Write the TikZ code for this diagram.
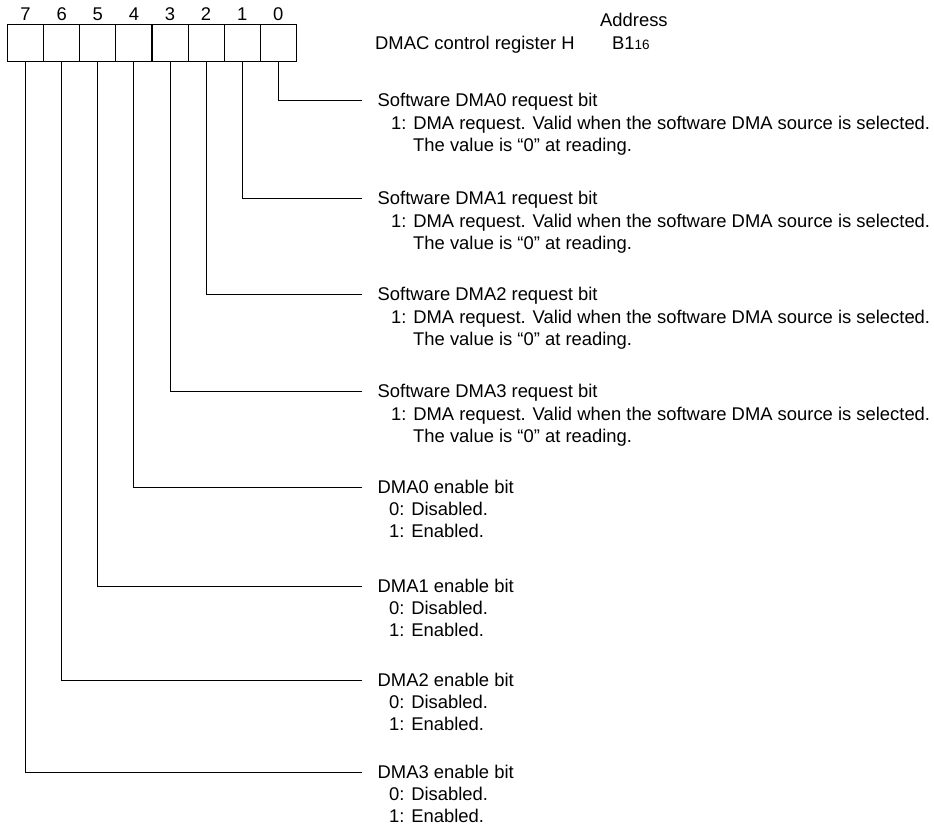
\documentclass[tikz,border=0pt]{standalone}
\usepackage{fontspec}
\setmainfont{Liberation Sans}
\begin{document}
\begin{tikzpicture}[x=1pt,y=-1pt,
  cell/.style={draw, line width=1.1pt, minimum width=36.1pt, minimum height=36.4pt, inner sep=0pt, anchor=north west},
  bitnum/.style={inner sep=0pt, font=\fontsize{18.4}{22}\selectfont},
  lbl/.style={anchor=west, inner sep=0pt, text height=13.2pt, text depth=0pt, font=\fontsize{18.4}{22}\selectfont},
  conn/.style={line width=0.9pt}]
\useasboundingbox (0,0) rectangle (934,825);
% register cells
\foreach \b [count=\i from 0] in {7,6,5,4,3,2,1,0}{
  \node[cell] (c\b) at ({7+36.1*\i},24.3) {};
  \node[bitnum] (n\b) at ([yshift=10.5pt]c\b.north) {\b};
}
% header
\node[lbl] (title) at (375,43) {DMAC control register H};
\node[lbl] (addr) at (600,20) {Address};
\node[lbl] (val) at (612,43) {B1{\fontsize{13.5}{16}\selectfont 16}};
% software request bits
\foreach \b/\y in {0/100,1/198,2/294,3/391}{
  \node[lbl] (t\b) at (377.5,\y) {Software DMA\b\ request bit};
  \node[lbl] (a\b) at (391,\y+22.5) {1: DMA request. Valid when the software DMA source is selected.};
  \node[lbl] (r\b) at (413,\y+45) {The value is “0” at reading.};
  \coordinate (e\b) at (362,\y);
  \draw[conn] (c\b.south) |- (e\b);
}
% enable bits
\foreach \b/\k/\y in {4/0/487,5/1/586,6/2/680,7/3/772}{
  \node[lbl] (t\b) at (377.5,\y) {DMA\k\ enable bit};
  \node[lbl] (a\b) at (389,\y+22) {0: Disabled.};
  \node[lbl] (r\b) at (389,\y+44) {1: Enabled.};
  \coordinate (e\b) at (362,\y);
  \draw[conn] (c\b.south) |- (e\b);
}
\end{tikzpicture}
\end{document}
